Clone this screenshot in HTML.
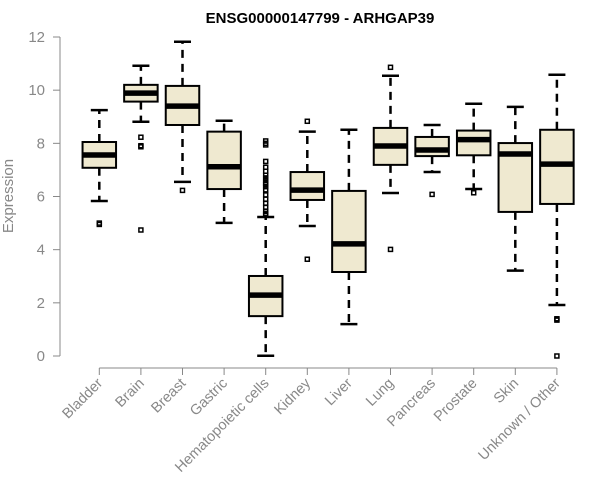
<!DOCTYPE html>
<html><head><meta charset="utf-8"><style>
body{margin:0;background:#fff}
svg{display:block;font-family:"Liberation Sans",Arial,sans-serif}
</style></head><body>
<svg id="chart" width="600" height="500"></svg>
<script>
const categories=["Bladder","Brain","Breast","Gastric","Hematopoietic cells","Kidney","Liver","Lung","Pancreas","Prostate","Skin","Unknown / Other"];
const lowWhisker=[5.83,8.81,6.55,5.01,0.01,4.89,1.2,6.13,6.92,6.28,3.21,1.92];
const q1=[7.08,9.57,8.69,6.28,1.5,5.87,3.16,7.19,7.52,7.55,5.42,5.72];
const medians=[7.56,9.89,9.4,7.12,2.29,6.24,4.22,7.9,7.75,8.14,7.6,7.22];
const q3=[8.05,10.2,10.16,8.44,3.01,6.92,6.21,8.58,8.24,8.48,8.01,8.51];
const highWhisker=[9.25,10.92,11.82,8.85,5.23,8.44,8.51,10.54,8.69,9.49,9.37,10.58];
const outliers=[[4.95,5.0],[8.23,7.91,7.87,4.74],[6.23],[],[8.09,8.0,7.94,7.32,7.1,6.95,6.8,6.7,6.6,6.5,6.45,6.37,6.25,6.06,5.9,5.74,5.6,5.43,5.35,5.3],[8.83,3.64],[],[10.86,4.01],[6.08],[6.14],[],[1.4,1.35,0]];
const yTicks=[0,2,4,6,8,10,12];

const NS="http://www.w3.org/2000/svg";
const svg=document.getElementById('chart');
function el(tag,attrs,parent){const e=document.createElementNS(NS,tag);for(const k in attrs)e.setAttribute(k,attrs[k]);(parent||svg).appendChild(e);return e;}
const y=v=>356-v*(356-37)/12;
const x=i=>99.3+i*41.6;
const bw=33.5, cap=17;

const t=el('text',{x:320,y:23,'text-anchor':'middle','font-size':15,'font-weight':'bold',fill:'#000'});


t.textContent="ENSG00000147799 - ARHGAP39";

const yt=el('text',{x:0,y:0,transform:'translate(13,196) rotate(-90)','text-anchor':'middle','font-size':15,fill:'#888'});


yt.textContent="Expression";

const ya=el('g',{});


el('line',{x1:60,x2:60,y1:y(0),y2:y(12),stroke:'#888','stroke-width':1},ya);
yTicks.forEach(v=>{
  el('line',{x1:53,x2:60,y1:y(v),y2:y(v),stroke:'#888','stroke-width':1},ya);
  const l=el('text',{x:45,y:y(v)+5,'text-anchor':'end','font-size':15,fill:'#888'},ya);
  
  
  l.textContent=v;
});

const xa=el('g',{});


el('line',{x1:x(0),x2:x(categories.length-1),y1:368,y2:368,stroke:'#888','stroke-width':1},xa);
categories.forEach((c,i)=>{
  el('line',{x1:x(i),x2:x(i),y1:368,y2:375,stroke:'#888','stroke-width':1},xa);
  const l=el('text',{x:0,y:0,transform:`translate(${x(i)+4},${384}) rotate(-45)`,'text-anchor':'end','font-size':14.5,fill:'#888'},xa);
  
  
  l.textContent=c;
});

categories.forEach((c,i)=>{
  const g=el('g',{});
  
  
  const cx=x(i);
  el('line',{x1:cx,x2:cx,y1:y(q3[i]),y2:y(highWhisker[i]),stroke:'#000','stroke-width':2.5,'stroke-dasharray':'8,6'},g);
  el('line',{x1:cx,x2:cx,y1:y(q1[i]),y2:y(lowWhisker[i]),stroke:'#000','stroke-width':2.5,'stroke-dasharray':'8,6'},g);
  el('line',{x1:cx-cap/2,x2:cx+cap/2,y1:y(highWhisker[i]),y2:y(highWhisker[i]),stroke:'#000','stroke-width':2.5},g);
  el('line',{x1:cx-cap/2,x2:cx+cap/2,y1:y(lowWhisker[i]),y2:y(lowWhisker[i]),stroke:'#000','stroke-width':2.5},g);
  el('rect',{x:cx-bw/2,y:y(q3[i]),width:bw,height:y(q1[i])-y(q3[i]),fill:'#efe9d0',stroke:'#000','stroke-width':2},g);
  el('line',{x1:cx-bw/2,x2:cx+bw/2,y1:y(medians[i]),y2:y(medians[i]),stroke:'#000','stroke-width':5.5},g);
  outliers[i].forEach(v=>{
    const o=el('rect',{x:cx-2,y:y(v)-2,width:4,height:4,fill:'none',stroke:'#000','stroke-width':1.5},g);
    
    
  });
});
</script>
</body></html>
